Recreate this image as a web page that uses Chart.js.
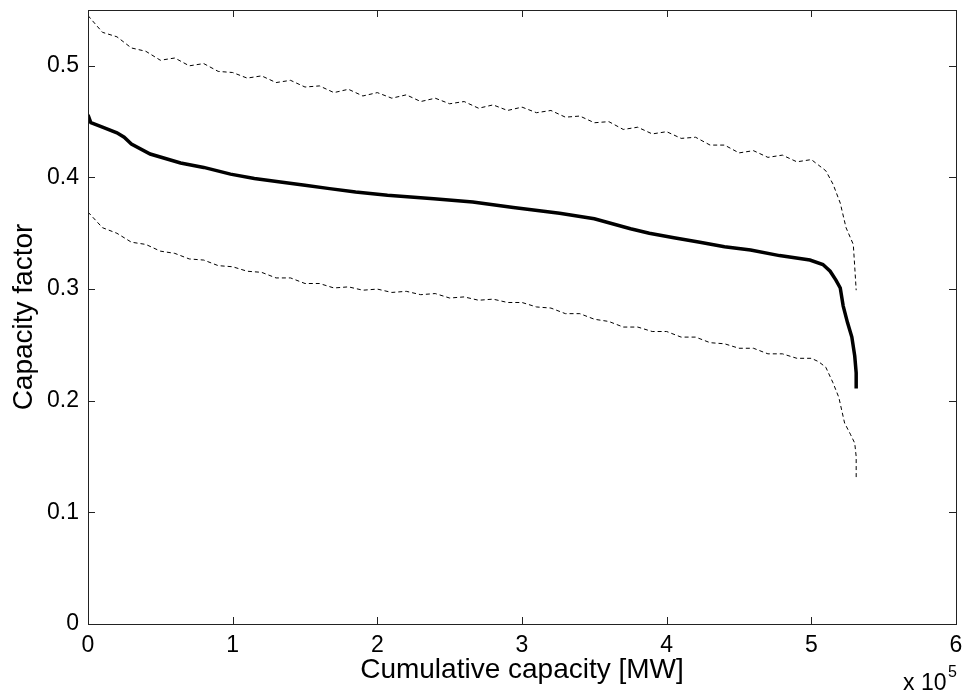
<!DOCTYPE html>
<html>
<head>
<meta charset="utf-8">
<script src="https://cdn.jsdelivr.net/npm/chart.js@4"></script>
<style>
  html, body { margin: 0; padding: 0; background: #fff; }
  #wrap { width: 966px; height: 698px; }
</style>
</head>
<body>
<div id="wrap"><canvas id="chart" width="966" height="698"></canvas></div>
<script>
// x in units of 10^5 MW
const meanX = [0, 0.02, 0.1, 0.2, 0.25, 0.3, 0.43, 0.64, 0.8, 0.985, 1.15, 1.33, 1.5, 1.67, 1.85, 2.07, 2.39, 2.66, 2.94, 3.26, 3.5, 3.75, 3.88, 4.05, 4.23, 4.4, 4.58, 4.78, 4.99, 5.08, 5.13, 5.17, 5.2, 5.22, 5.25, 5.28, 5.3, 5.31, 5.31];
const meanY = [0.456, 0.449, 0.445, 0.440, 0.436, 0.430, 0.421, 0.413, 0.409, 0.403, 0.399, 0.396, 0.393, 0.390, 0.387, 0.384, 0.381, 0.378, 0.373, 0.368, 0.363, 0.354, 0.350, 0.346, 0.342, 0.338, 0.335, 0.330, 0.326, 0.322, 0.316, 0.308, 0.301, 0.285, 0.270, 0.257, 0.240, 0.225, 0.211];

const bandX = [0, 0.1, 0.2, 0.3, 0.4, 0.5, 0.6, 0.7, 0.8, 0.9, 1.0, 1.1, 1.2, 1.3, 1.4, 1.5, 1.6, 1.7, 1.8, 1.9, 2.0, 2.1, 2.2, 2.3, 2.4, 2.5, 2.6, 2.7, 2.8, 2.9, 3.0, 3.1, 3.2, 3.3, 3.4, 3.5, 3.6, 3.7, 3.8, 3.9, 4.0, 4.1, 4.2, 4.3, 4.4, 4.5, 4.6, 4.7, 4.8, 4.9, 5.0];

const upperTailX = [5.05, 5.1, 5.15, 5.2, 5.24, 5.29, 5.3, 5.31];
const upperY = [0.545, 0.530, 0.526, 0.516, 0.513, 0.505, 0.507, 0.500, 0.502, 0.495, 0.494, 0.489, 0.491, 0.485, 0.487, 0.481, 0.482, 0.476, 0.479, 0.473, 0.476, 0.471, 0.474, 0.468, 0.471, 0.466, 0.468, 0.462, 0.465, 0.460, 0.463, 0.458, 0.460, 0.454, 0.455, 0.449, 0.450, 0.443, 0.445, 0.439, 0.441, 0.435, 0.436, 0.429, 0.429, 0.422, 0.424, 0.418, 0.420, 0.414, 0.416,
  0.411, 0.406, 0.394, 0.377, 0.355, 0.340, 0.320, 0.299];

const lowerTailX = [5.05, 5.1, 5.15, 5.19, 5.23, 5.27, 5.3, 5.31, 5.31];
const lowerY = [0.369, 0.355, 0.350, 0.342, 0.340, 0.334, 0.332, 0.327, 0.326, 0.321, 0.320, 0.316, 0.315, 0.310, 0.310, 0.305, 0.305, 0.301, 0.302, 0.299, 0.300, 0.297, 0.298, 0.295, 0.296, 0.292, 0.293, 0.290, 0.291, 0.288, 0.288, 0.284, 0.283, 0.278, 0.278, 0.273, 0.271, 0.266, 0.266, 0.262, 0.262, 0.257, 0.257, 0.252, 0.251, 0.247, 0.247, 0.242, 0.242, 0.238, 0.238,
  0.235, 0.230, 0.216, 0.203, 0.180, 0.170, 0.162, 0.150, 0.131];

const xTicks = [0, 1, 2, 3, 4, 5, 6];
const yTicks = [0, 0.1, 0.2, 0.3, 0.4, 0.5];

const FONT = "'Liberation Sans', Arial, sans-serif";

function points(xs, ys) {
  return xs.map((x, i) => ({ x, y: ys[i] }));
}

// MATLAB style box, inward ticks and the x10^5 exponent
const matlabAxes = {
  id: 'matlabAxes',
  afterDraw(chart) {
    const { ctx, chartArea: a, scales } = chart;
    const len = 7;
    ctx.save();
    ctx.strokeStyle = '#222';
    ctx.lineWidth = 1;
    ctx.beginPath();
    xTicks.forEach(v => {
      const px = Math.round(scales.x.getPixelForValue(v)) + 0.5;
      ctx.moveTo(px, a.bottom); ctx.lineTo(px, a.bottom - len);
      ctx.moveTo(px, a.top); ctx.lineTo(px, a.top + len);
    });
    yTicks.forEach(v => {
      const py = Math.round(scales.y.getPixelForValue(v)) + 0.5;
      ctx.moveTo(a.left, py); ctx.lineTo(a.left + len, py);
      ctx.moveTo(a.right, py); ctx.lineTo(a.right - len, py);
    });
    ctx.stroke();
    ctx.strokeRect(Math.round(a.left) + 0.5, Math.round(a.top) + 0.5,
      Math.round(a.right - a.left), Math.round(a.bottom - a.top));

    ctx.fillStyle = '#000';
    ctx.textBaseline = 'alphabetic';
    ctx.textAlign = 'left';
    ctx.font = `23px ${FONT}`;
    ctx.fillText('x 10', a.right - 53, a.bottom + 66);
    ctx.font = `16px ${FONT}`;
    ctx.fillText('5', a.right - 8, a.bottom + 53);
    ctx.restore();
  }
};

new Chart(document.getElementById('chart').getContext('2d'), {
  type: 'line',
  data: {
    datasets: [
      {
        label: 'Upper',
        data: points(bandX.concat(upperTailX), upperY),
        borderColor: '#000',
        borderWidth: 1,
        borderDash: [4, 3],
        pointRadius: 0,
        tension: 0,
        fill: false
      },
      {
        label: 'Mean',
        data: points(meanX, meanY),
        borderColor: '#000',
        borderWidth: 3.5,
        pointRadius: 0,
        tension: 0,
        fill: false
      },
      {
        label: 'Lower',
        data: points(bandX.concat(lowerTailX), lowerY),
        borderColor: '#000',
        borderWidth: 1,
        borderDash: [4, 3],
        pointRadius: 0,
        tension: 0,
        fill: false
      }
    ]
  },
  options: {
    responsive: false,
    animation: false,
    layout: { padding: { top: 10, right: 10, left: 0, bottom: 0 } },
    plugins: { legend: { display: false }, tooltip: { enabled: false } },
    scales: {
      x: {
        type: 'linear',
        min: 0,
        max: 6,
        grid: { display: false, drawTicks: false },
        border: { display: false },
        ticks: {
          stepSize: 1,
          padding: 8,
          color: '#000',
          font: { family: FONT, size: 23 },
          maxRotation: 0
        },
        title: {
          display: true,
          text: 'Cumulative capacity [MW]',
          color: '#000',
          font: { family: FONT, size: 28 },
          padding: { top: 0, bottom: 11 }
        },
        afterFit(scale) {
          scale.height = 74;
          scale.paddingLeft = 0;
          scale.paddingRight = 0;
        }
      },
      y: {
        min: 0,
        max: 0.55,
        grid: { display: false, drawTicks: false },
        border: { display: false },
        ticks: {
          stepSize: 0.1,
          includeBounds: false,
          padding: 9,
          color: '#000',
          font: { family: FONT, size: 23 },
          callback: v => v === 0 ? '0' : v.toFixed(1)
        },
        title: {
          display: true,
          text: 'Capacity factor',
          color: '#000',
          font: { family: FONT, size: 28 },
          padding: { top: 7, bottom: 0 }
        },
        afterFit(scale) {
          scale.width = 88;
          scale.paddingTop = 0;
          scale.paddingBottom = 0;
        }
      }
    }
  },
  plugins: [matlabAxes]
});
</script>
</body>
</html>
